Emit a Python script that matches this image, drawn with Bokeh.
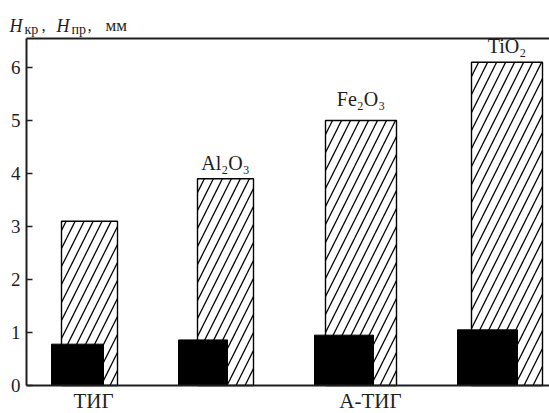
from bokeh.plotting import figure
from bokeh.models import (ColumnDataSource, Range1d, LinearAxis, FixedTicker,
                          Label, LabelSet)
from bokeh.embed import file_html
from bokeh.resources import INLINE

# --- data -------------------------------------------------------------
methods = ["ТИГ", "А-ТИГ"]                   # welding process groups
oxides = ["", "Al₂O₃", "Fe₂O₃", "TiO₂"]      # activating flux per bar pair
h_pr = [3.1, 3.9, 5.0, 6.1]                  # Hпр, mm (hatched bars)
h_kr = [0.78, 0.86, 0.95, 1.05]              # Hкр, mm (black bars)
y_ticks = [0, 1, 2, 3, 4, 5, 6]
y_top = 6.55                                 # upper frame line, mm

# --- layout (x in canvas pixels) ---------------------------------------
W, H = 549, 413
AXIS_X = 26
BASE_Y = 385
PX_PER_MM = 53.0
hatch_x = [89, 225, 360.5, 506.5]
hatch_w = [56, 56, 71, 71]
solid_x = [77, 202.5, 343.5, 487]
solid_w = [52, 49, 59, 60]
method_x = [93, 370]
label_dy = [8, 9, 15, 9]

SERIF = "Liberation Serif"
INK = "#1e1e1e"

p = figure(width=W, height=H, output_backend="svg", toolbar_location=None,
           x_range=Range1d(0, W),
           y_range=Range1d(-(H - BASE_Y) / PX_PER_MM, BASE_Y / PX_PER_MM),
           x_axis_type=None, y_axis_type=None, min_border=0)
p.outline_line_color = None
p.grid.visible = False
p.background_fill_color = "white"
p.border_fill_color = "white"

src_pr = ColumnDataSource(dict(x=hatch_x, w=hatch_w, top=h_pr, name=oxides, dy=label_dy))
src_kr = ColumnDataSource(dict(x=solid_x, w=solid_w, top=h_kr))

p.vbar(x="x", width="w", top="top", bottom=0, source=src_pr,
       fill_color="white", line_color="black", line_width=1.4,
       hatch_pattern="/", hatch_color="black", hatch_weight=1.3, hatch_scale=18)
p.vbar(x="x", width="w", top="top", bottom=0, source=src_kr,
       fill_color="black", line_color="black", line_width=1)

p.add_layout(LabelSet(x="x", y="top", text="name", source=src_pr,
                      y_offset="dy", text_align="center",
                      text_baseline="alphabetic", text_font=SERIF,
                      text_font_size="20px", text_color=INK))


def bare_axis(ax):
    ax.minor_tick_line_color = None
    ax.axis_line_width = 2
    ax.axis_line_color = INK
    ax.major_label_text_font = SERIF
    ax.major_label_text_color = INK
    return ax


# left axis: inward ticks, serif numbers
yax = bare_axis(LinearAxis(ticker=FixedTicker(ticks=y_ticks), bounds=(0, y_top),
                           fixed_location=AXIS_X))
yax.major_tick_in = 6
yax.major_tick_out = 0
yax.major_tick_line_width = 1.5
yax.major_tick_line_color = INK
yax.major_label_standoff = 6
yax.major_label_text_font_size = "19px"
p.add_layout(yax, "left")

# bottom axis carries the process names
xax = bare_axis(LinearAxis(ticker=FixedTicker(ticks=method_x), bounds=(AXIS_X, W),
                           fixed_location=0))
xax.major_label_overrides = {method_x[i]: m for i, m in enumerate(methods)}
xax.major_tick_in = 0
xax.major_tick_out = 0
xax.major_label_standoff = 3
xax.major_label_text_font_size = "21px"
p.add_layout(xax, "below")

# upper frame line
tax = bare_axis(LinearAxis(ticker=FixedTicker(ticks=[]), bounds=(AXIS_X, W),
                           fixed_location=y_top))
tax.major_tick_in = 0
tax.major_tick_out = 0
tax.major_label_text_font_size = "0px"
p.add_layout(tax, "above")

# axis title "Hкр, Hпр, мм" built from pieces (subscripts)
yt = (BASE_Y - 25) / PX_PER_MM
ys = (BASE_Y - 29) / PX_PER_MM
for txt, x, y, size, style in [
    ("H", 9, yt, "18px", "italic"),
    ("кр", 24, ys, "14px", "normal"),
    (",", 41, yt, "17px", "normal"),
    ("H", 56, yt, "18px", "italic"),
    ("пр", 71, ys, "14px", "normal"),
    (",", 87, yt, "17px", "normal"),
    ("мм", 105, yt, "17px", "normal"),
]:
    p.add_layout(Label(x=x, y=y, text=txt, text_font=SERIF, text_font_size=size,
                       text_font_style=style, text_color=INK,
                       text_baseline="alphabetic", text_align="left"))

open("out.html", "w").write(file_html(p, INLINE))
